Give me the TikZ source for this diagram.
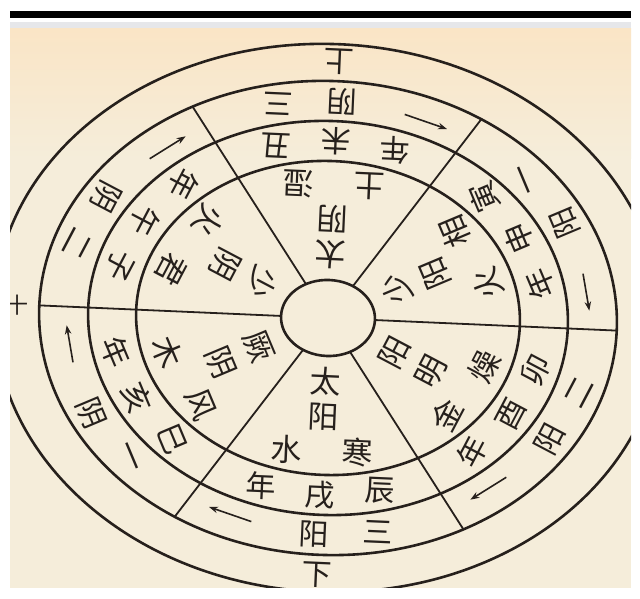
\documentclass[tikz,border=0pt]{standalone}
\usepackage{fontspec}
\newfontfamily\cjkfont{Noto Sans CJK SC}
\usetikzlibrary{arrows.meta}
\definecolor{ink}{RGB}{38,32,28}
\definecolor{paper}{RGB}{245,237,218}
\definecolor{peach}{RGB}{250,229,198}
\definecolor{stripgray}{RGB}{230,231,234}

\tikzset{
  ring/.style={draw=ink, line width=2.6pt},
  divider/.style={draw=ink, line width=1.8pt},
  hanzi/.style={text=ink, font=\cjkfont\fontsize{31}{31}\selectfont, inner sep=0pt},
  hanzismall/.style={hanzi, font=\cjkfont\fontsize{30}{30}\selectfont},
  flowarrow/.style={draw=ink, line width=1.6pt, -{Stealth[length=9pt,width=6.5pt]}},
}

% inner ring: four characters of one sector
\newcommand\qiring[7]{%
  \begin{scope}[xscale=1.223]\begin{scope}[rotate=#2]
    \node[hanzi, rotate=#3] (#1-a) at (0,-64) {#4};
    \node[hanzi, rotate=#3] (#1-b) at (0,-99) {#5};
    \node[hanzi, rotate=#3] (#1-c) at (29,-133) {#6};
    \node[hanzi, rotate=#3] (#1-d) at (-29,-133) {#7};
  \end{scope}\end{scope}}

% middle ring: two branches and 年
\newcommand\branchring[5]{%
  \begin{scope}[xscale=1.223]\begin{scope}[rotate=#2]
    \node[hanzismall, rotate=#3] (#1-a) at (286:177) {#4};
    \node[hanzismall, rotate=#3] (#1-b) at (270:177) {#5};
    \node[hanzismall, rotate=#3] (#1-c) at (254:177) {年};
  \end{scope}\end{scope}}

% outer ring: number, yin/yang and arrow
\newcommand\yyring[5]{%
  \begin{scope}[xscale=1.223]\begin{scope}[rotate=#2]
    \node[hanzismall, rotate=#3] (#1-a) at (283:217) {#4};
    \node[hanzismall, rotate=#3] (#1-b) at (269:217) {#5};
    \coordinate (#1-s) at (255:214);
    \coordinate (#1-e) at (245:214);
    \draw[flowarrow] (#1-s) -- (#1-e);
  \end{scope}\end{scope}}

\begin{document}
\begin{tikzpicture}[x=1pt,y=1pt]
\useasboundingbox (0,0) rectangle (640,599);
\fill[white] (0,0) rectangle (640,599);
% top bar and strip
\fill[black] (10,581) rectangle (631,588);
\fill[stripgray] (10,570) rectangle (631,577);
% paper
\fill[paper] (10,11) rectangle (631,570);
\shade[top color=peach, bottom color=paper] (10,440) rectangle (631,570);

\begin{scope}
\clip (10,11) rectangle (631,570);
\begin{scope}[shift={(328,281)}, rotate=-2.5]
  \coordinate (O) at (0,0);
  \draw[ring] (O) ellipse [x radius=334pt, y radius=274pt];
  \draw[ring] (O) ellipse [x radius=289pt, y radius=237pt];
  \draw[ring] (O) ellipse [x radius=240pt, y radius=197pt];
  \draw[ring] (O) ellipse [x radius=192pt, y radius=157pt];
  \draw[ring] (O) ellipse [x radius=47pt, y radius=38pt];
  \foreach \t in {0,60,...,300} {
    \coordinate (in\t) at (\t:47pt and 38pt);
    \coordinate (out\t) at (\t:289pt and 237pt);
    \draw[divider] (in\t) -- (out\t);
  }

  \qiring{qT}{180}{177.5}{太}{阴}{湿}{土}
  \qiring{qUR}{120}{112.8}{少}{阳}{相}{火}
  \qiring{qLR}{60}{62.2}{阳}{明}{燥}{金}
  \qiring{qB}{0}{-2.5}{太}{阳}{寒}{水}
  \qiring{qLL}{-60}{-67.2}{厥}{阴}{风}{木}
  \qiring{qUL}{-120}{-117.8}{少}{阴}{君}{火}

  \branchring{bT}{180}{177.5}{丑}{未}
  \branchring{bUR}{120}{112.8}{寅}{申}
  \branchring{bLR}{60}{62.2}{卯}{酉}
  \branchring{bB}{0}{-2.5}{辰}{戌}
  \branchring{bLL}{-60}{-67.2}{巳}{亥}
  \branchring{bUL}{-120}{-117.8}{子}{午}

  \yyring{yT}{180}{177.5}{三}{阴}
  \yyring{yUR}{120}{112.8}{一}{阳}
  \yyring{yLR}{60}{62.2}{二}{阳}
  \yyring{yB}{0}{-2.5}{三}{阳}
  \yyring{yLL}{-60}{-67.2}{一}{阴}
  \yyring{yUL}{-120}{-117.8}{二}{阴}

  \node[hanzismall, rotate=177.5] (up) at (0,257) {上};
  \node[hanzismall, rotate=-2.5] (down) at (0,-257) {下};
\end{scope}
\node[hanzi, font=\cjkfont\fontsize{22}{22}\selectfont] (leftmark) at (17,294) {十};
\end{scope}
\end{tikzpicture}
\end{document}
